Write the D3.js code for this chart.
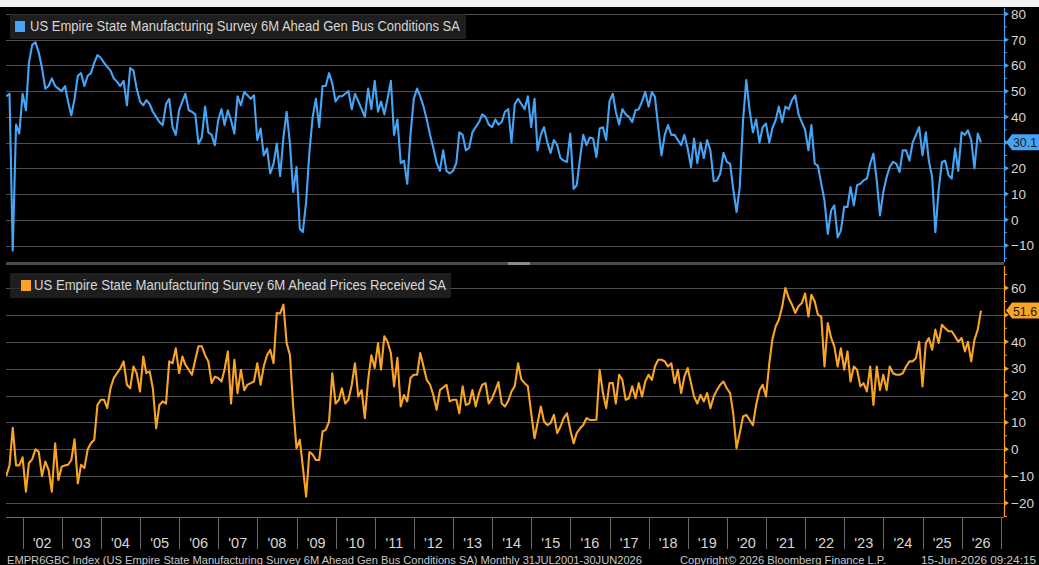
<!DOCTYPE html>
<html><head><meta charset="utf-8">
<script src="https://cdn.jsdelivr.net/npm/d3@7"></script>
<style>html,body{margin:0;padding:0;background:#000;overflow:hidden}svg{display:block}</style>
</head><body><svg id="c" width="1039" height="565"></svg>
<script>
// ---- data (monthly, Jul 2001 .. Jun 2026) ----
const firstMonth = {year: 2001, month: 6}; // July 2001 (0-based month)
const genBusValues = [
  48, 49, -12, 37, 33.5, 49,
  42.6, 61, 68, 69, 65, 59, 51, 52, 55, 52, 51, 50,
  52, 46, 40.6, 47, 56, 57, 52, 56, 57, 61, 64, 63,
  61, 59.5, 58, 55, 53.6, 52, 54, 44.5, 59, 58, 51, 46,
  44.5, 46.5, 45, 42, 40, 38, 36.8, 45, 47, 36, 33, 42.6,
  46, 49, 42.6, 42, 41, 29.6, 32, 44, 34, 33, 29, 38.7,
  43, 36.8, 42.6, 38.7, 33.5, 48, 44.5, 49.7, 48.4, 47, 48.4, 31,
  35.5, 25, 27.7, 18, 21.8, 29.6, 17, 32, 42, 29.6, 10.8, 20.5,
  -3.5, -4.8, 7, 26, 40, 47, 36, 52, 52, 57, 53, 46,
  48, 48, 49, 50, 43, 49, 46, 43, 40, 51, 43, 54,
  42, 46, 41, 47, 54, 33, 39, 22, 23, 14, 33, 47,
  51, 48, 44, 39, 33, 28, 22, 19, 27, 19, 18, 19,
  22, 34, 33, 27, 28, 34, 36, 38, 41, 40, 37, 36,
  39, 37, 38, 42, 43, 30, 45, 47, 45, 43, 48, 36,
  47, 27, 33, 36, 30, 26, 31, 29, 24, 23, 22.5, 33.5,
  12, 13.4, 24, 33, 29, 32, 31.6, 24.4, 35.5, 36, 31, 46,
  49, 42, 37, 43, 41, 40, 38, 42.6, 43, 46, 49.7, 44,
  49.7, 47.8, 36, 25, 33, 36.8, 33, 33, 31, 29, 33, 27.7,
  20.5, 31.6, 22, 30, 24, 31, 27, 15, 15.3, 18, 26, 22.5,
  21.8, 12, 3, 12.7, 38.7, 54.3, 42.6, 34, 39, 30, 36, 37.4,
  30, 35.5, 38.7, 44, 38, 44, 43, 46.5, 48.4, 41, 38, 35,
  27, 36.8, 21.8, 21, 14, 7.5, -5.5, 3.6, 5.6, -6.8, -4.2, 5,
  5, 12.7, 5.6, 13.4, 14, 15.3, 16, 21.8, 25.7, 15.3, 1.7, 10.8,
  16.6, 20.5, 22.5, 21.8, 18.6, 27, 27, 23, 30, 33, 36, 25,
  34, 23, 16.6, -4.8, 11.4, 22.5, 23, 17.3, 16, 27.7, 19, 34,
  33, 34.8, 31, 20, 33.5, 30.1
];
const pricesValues = [
  -10, -6, 8, -6, -6, -3,
  -15.8, -5.2, -3.7, 0, -1, -10, -4.6, -7.7, -15.8, 2.2, -11.4, -6.5,
  -6, -5.8, -4, 3.7, -12.7, -5.8, -7, 0, 2.2, 3.5, 16.5, 18.4,
  18.4, 15.3, 22.7, 26.5, 28.3, 30, 32.7, 24, 22.7, 30.8, 28.3, 21.5,
  34.5, 28.3, 29, 22.7, 7.8, 16.5, 17.8, 17, 32.7, 32, 37.6, 28.3,
  34.5, 31.4, 29.6, 27.7, 33.3, 38.3, 38.3, 35, 32.7, 24.6, 27, 26.5,
  25.2, 29.6, 36.4, 17, 33.3, 20.9, 29.6, 22, 24, 24.6, 25.2, 32,
  24, 30.8, 35, 37, 32, 50.7, 50.5, 53.8, 39.5, 35, 15.9, 0.4,
  3.5, -6.5, -17.6, -1, -2, -4, -4, 6.6, 7.2, 10.3, 28.3, 17,
  18.4, 22.7, 17, 18.4, 24, 32, 19.6, 22, 11.6, 25.8, 35, 30.2,
  39.5, 29.6, 42, 40, 35.8, 23.4, 34, 15.9, 20.2, 17.8, 26.5, 27.7,
  27.7, 35.8, 30.8, 25.8, 24, 20.2, 14.7, 22, 23, 24, 17.8, 18.4,
  18.4, 13.4, 23.4, 16.5, 17, 22, 15.9, 20.9, 24, 24.6, 17, 19,
  22, 25, 17, 15.9, 18, 21.5, 23.5, 32, 26, 24.6, 23.4, 13.4,
  4.1, 9.7, 15.9, 10.3, 9, 9.7, 12.8, 6, 8.4, 11.6, 13.4, 7.2,
  2.2, 6, 7.8, 9, 11.6, 10.9, 10.9, 11, 29.6, 20.9, 15.3, 24.6,
  24.6, 17, 27.7, 25.8, 18.4, 19, 23.4, 19, 24.6, 19.6, 25.2, 27.7,
  25.8, 30.8, 33.3, 33.3, 32.7, 30.8, 32, 24.6, 29.6, 20.9, 27, 30.2,
  24.6, 19.6, 17, 20.2, 17.8, 20.9, 15.3, 19.6, 22, 24, 25.2, 22.7,
  20.9, 13.4, 0.4, 6, 12.2, 12.8, 10.9, 9, 16.5, 22, 24, 19.6,
  32, 40.7, 45.7, 48.2, 53, 60, 56.3, 53.8, 50.7, 53.2, 54.4, 58,
  49.4, 57.5, 55, 50, 49.4, 30.8, 47, 41.4, 38.3, 30.8, 37.6, 29.6,
  36.4, 25.2, 30.8, 29.6, 23.4, 24.6, 21.5, 30.8, 16.5, 30.8, 22, 27.7,
  22, 30.8, 28.3, 27.7, 27.7, 28.3, 30.8, 32.7, 32.7, 33.9, 40, 23.4,
  39.5, 41.4, 37, 44.5, 39.5, 46.3, 45, 43.9, 43.9, 42, 40, 41.4,
  36.4, 40, 32.7, 40.7, 44.5, 51.6
];
const genBusTicks = [-10, 0, 10, 20, 40, 50, 60, 70, 80];
const genBusGrid = [-10, 0, 10, 20, 30, 40, 50, 60, 70, 80];
const pricesTicks = [-20, -10, 0, 10, 20, 30, 40, 60];
const pricesGrid = [-20, -10, 0, 10, 20, 30, 40, 50, 60];
const yearLabels = ["'02","'03","'04","'05","'06","'07","'08","'09","'10","'11","'12","'13","'14","'15","'16","'17","'18","'19","'20","'21","'22","'23","'24","'25","'26"];
const genBusName = "US Empire State Manufacturing Survey 6M Ahead Gen Bus Conditions SA";
const pricesName = "US Empire State Manufacturing Survey 6M Ahead Prices Received SA";
const footerLeft = "EMPR6GBC Index (US Empire State Manufacturing Survey 6M Ahead Gen Bus Conditions SA) Monthly 31JUL2001-30JUN2026";
const footerMid = "Copyright\u00A9 2026 Bloomberg Finance L.P.";
const footerRight = "15-Jun-2026 09:24:15";

// ---- helpers ----
const monthEnd = i => new Date(firstMonth.year, firstMonth.month + i + 1, 0);
const genBus = genBusValues.map((v, i) => ({date: monthEnd(i), v}));
const prices = pricesValues.map((v, i) => ({date: monthEnd(i), v}));

const FONT = "'Liberation Sans Narrow','Liberation Sans',Arial,sans-serif";
const BLUE = "#45a4f6", ORANGE = "#f9a425", GRID = "#4f4f4f", TXT = "#d6d6d6";
const plotL = 6, plotR = 1004;
const topP = {t: 8, b: 262}, botP = {t: 266, b: 517};

const svg = d3.select("#c");
svg.append("rect").attr("width", 1039).attr("height", 565).attr("fill", "#000");
svg.append("rect").attr("width", 1039).attr("height", 7).attr("fill", "#f2f2f2");

const x = d3.scaleTime().domain([new Date(2002, 0, 1), new Date(2026, 0, 1)]).range([22.7, 961.7]);
const yTop = d3.scaleLinear().domain([-10, 80]).range([245.5, 14]);
const yBot = d3.scaleLinear().domain([-20, 60]).range([503, 288]);

const defs = svg.append("defs");
[["clipTop", topP], ["clipBot", botP]].forEach(([id, p]) => {
  defs.append("clipPath").attr("id", id).append("rect")
    .attr("x", plotL).attr("y", p.t).attr("width", plotR - plotL).attr("height", p.b - p.t);
});

function panel(p, y, grid, ticks, data, color, clip, name, legend, last) {
  const g = svg.append("g");
  g.selectAll("line.grid").data(grid).join("line")
    .attr("x1", plotL).attr("x2", plotR)
    .attr("y1", d => Math.round(y(d)) + 0.5).attr("y2", d => Math.round(y(d)) + 0.5)
    .attr("stroke", GRID).attr("stroke-width", 1.2);
  g.append("path").datum(data)
    .attr("clip-path", `url(#${clip})`)
    .attr("fill", "none").attr("stroke", color).attr("stroke-width", 2.1)
    .attr("stroke-linejoin", "round")
    .attr("d", d3.line().x(d => x(d.date)).y(d => y(d.v)));
  const lg = g.append("g");
  lg.append("rect").attr("x", legend.x).attr("y", legend.y).attr("width", legend.w).attr("height", legend.h)
    .attr("fill", "#262626").attr("fill-opacity", 0.78);
  lg.append("rect").attr("x", legend.sx).attr("y", legend.y + 7).attr("width", 10).attr("height", 11).attr("fill", color);
  lg.append("text").attr("x", legend.tx).attr("y", legend.y + 17)
    .attr("fill", TXT).attr("font-family", FONT).attr("font-size", 14)
    .attr("textLength", legend.tw).attr("lengthAdjust", "spacingAndGlyphs").text(name);
  const ax = g.append("g").attr("transform", `translate(${plotR},0)`)
    .call(d3.axisRight(y).tickValues(ticks).tickSize(0).tickPadding(7).tickFormat(d3.format("d")));
  ax.select(".domain").remove();
  ax.selectAll("text").attr("fill", TXT).attr("font-family", FONT).attr("font-size", 13.5);
  g.append("line").attr("x1", plotR + 0.5).attr("x2", plotR + 0.5).attr("y1", p.t).attr("y2", p.b)
    .attr("stroke", color).attr("stroke-width", 1.2);
  const minor = d3.range(Math.ceil(y.invert(p.b) / 5) * 5, y.invert(p.t), 5);
  g.selectAll("line.minor").data(minor.filter(v => v % 10 !== 0)).join("line")
    .attr("x1", plotR).attr("x2", plotR + 3).attr("y1", d => y(d)).attr("y2", d => y(d))
    .attr("stroke", color).attr("stroke-width", 1);
  g.selectAll("path.tri").data(grid).join("path")
    .attr("d", d => `M${plotR},${y(d) - 3}L${plotR + 5},${y(d)}L${plotR},${y(d) + 3}Z`)
    .attr("fill", color);
  const yl = y(last);
  const bx = plotR + 2;
  g.append("path")
    .attr("d", `M${bx},${yl}L${bx + 6},${yl - 8}L1039,${yl - 8}L1039,${yl + 8}L${bx + 6},${yl + 8}Z`)
    .attr("fill", color);
  g.append("text").attr("x", bx + 7).attr("y", yl + 5).attr("fill", "#1a1a1a")
    .attr("font-family", FONT).attr("font-size", 13)
    .attr("textLength", 24).attr("lengthAdjust", "spacingAndGlyphs")
    .text(d3.format(".1f")(last));
}

panel(topP, yTop, genBusGrid, genBusTicks, genBus, BLUE, "clipTop", genBusName,
  {x: 10, y: 14, w: 456, h: 25, sx: 15, tx: 30, tw: 430}, genBusValues[genBusValues.length - 1]);
panel(botP, yBot, pricesGrid, pricesTicks, prices, ORANGE, "clipBot", pricesName,
  {x: 10, y: 273, w: 441, h: 25, sx: 21, tx: 34, tw: 412}, pricesValues[pricesValues.length - 1]);

svg.append("rect").attr("x", plotL).attr("y", 262).attr("width", plotR - plotL).attr("height", 3).attr("fill", "#4a4a4a");
svg.append("rect").attr("x", 508).attr("y", 262).attr("width", 22).attr("height", 3).attr("fill", "#8a8a8a");

svg.append("line").attr("x1", plotL).attr("x2", plotR).attr("y1", 517.5).attr("y2", 517.5).attr("stroke", "#6a6a6a");
const years = d3.range(2002, 2028);
svg.selectAll("line.sep").data(years).join("line")
  .attr("x1", d => Math.round(x(new Date(d, 0, 1))) + 0.5).attr("x2", d => Math.round(x(new Date(d, 0, 1))) + 0.5)
  .attr("y1", 518).attr("y2", 549).attr("stroke", "#6a6a6a").attr("stroke-width", 1);
svg.selectAll("text.yl").data(yearLabels).join("text")
  .attr("x", (d, i) => x(new Date(2002 + i, 6, 2))).attr("y", 548)
  .attr("text-anchor", "middle").attr("fill", TXT).attr("font-family", FONT).attr("font-size", 14.5)
  .text(d => d);

const ft = svg.append("g").attr("fill", "#c8c8c8").attr("font-family", FONT).attr("font-size", 11);
ft.append("text").attr("x", 7).attr("y", 564).attr("textLength", 635).attr("lengthAdjust", "spacingAndGlyphs").text(footerLeft);
ft.append("text").attr("x", 680).attr("y", 564).attr("textLength", 206).attr("lengthAdjust", "spacingAndGlyphs").text(footerMid);
ft.append("text").attr("x", 1036).attr("y", 564).attr("text-anchor", "end").attr("textLength", 115).attr("lengthAdjust", "spacingAndGlyphs").text(footerRight);
</script></body></html>
